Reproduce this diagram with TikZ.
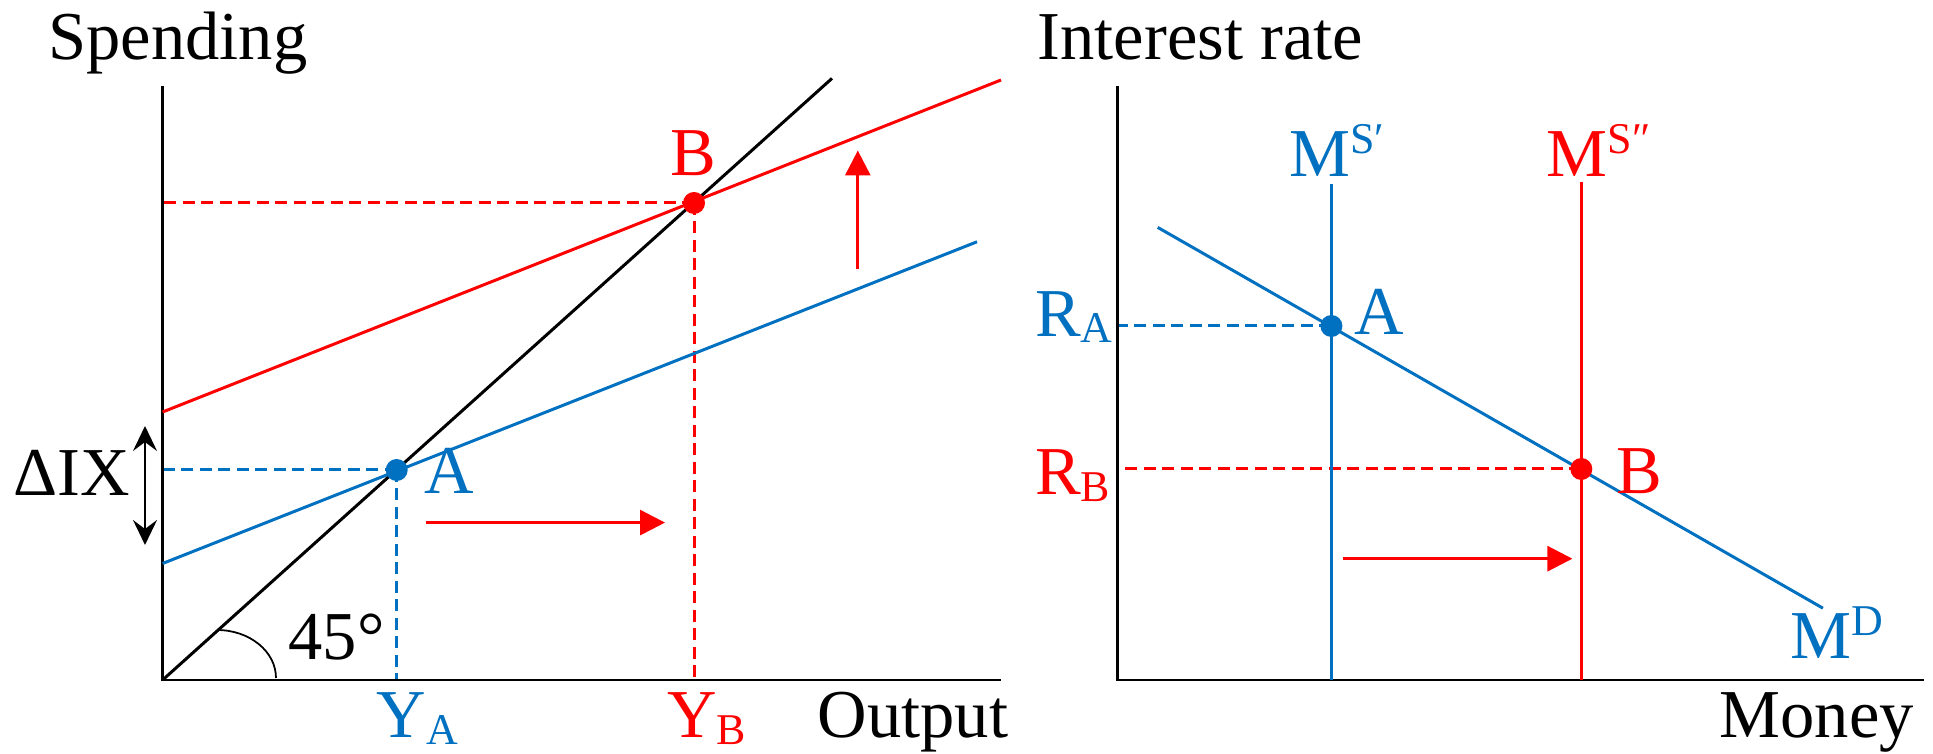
\documentclass[tikz,border=0pt]{standalone}
\usepackage{fontspec}
\setmainfont{Liberation Serif}
\usetikzlibrary{arrows.meta}
\definecolor{ablue}{HTML}{0070C0}
\definecolor{ared}{HTML}{FF0000}
\newcommand{\lowtext}[1]{\raisebox{-0.65mm}{\fontsize{12.5}{13}\selectfont #1}}
\newcommand{\hightext}[1]{\raisebox{2.3mm}{\fontsize{12.5}{13}\selectfont #1}}
\tikzset{
  axis/.style={line width=0.85pt},
  curve/.style={line width=0.85pt},
  guide/.style={line width=0.85pt, dash pattern=on 1.2mm off 0.65mm},
  shiftarrow/.style={line width=0.85pt, ared, -{Triangle[length=2.5mm,width=2.5mm]}},
  dot/.style={circle, fill, inner sep=0pt, minimum size=2.2mm},
  lbl/.style={inner sep=0pt, anchor=base west, font=\fontsize{19.5}{23}\selectfont},
}
\begin{document}
\begin{tikzpicture}[x=0.1mm,y=-0.1mm]
\useasboundingbox (0,0) rectangle (1933,754);
% spending / output
\coordinate (o1) at (162.6,680);
\coordinate (sy) at (162.6,85.6);
\coordinate (sx) at (1001,680);
\coordinate (d45) at (832,78.4);
\coordinate (blue0) at (162.6,563.5);
\coordinate (blue1) at (977,241.8);
\coordinate (red0) at (162.6,412);
\coordinate (red1) at (1001,80);
\coordinate (A1) at (396.7,470);
\coordinate (B1) at (694,203);
\coordinate (up0) at (857.8,269);
\coordinate (up1) at (857.8,150.5);
\coordinate (rt0) at (426,522.6);
\coordinate (rt1) at (665,522.6);
\coordinate (dix0) at (145,426);
\coordinate (dix1) at (145,545);
\draw[guide, ablue] (A1) -- (A1 -| o1);
\draw[guide, ablue] (A1) -- (A1 |- o1);
\draw[guide, ared] (B1) -- (B1 -| o1);
\draw[guide, ared] (B1) -- (B1 |- o1);
\draw[axis] (sy) -- (o1) -- (sx);
\draw[curve] (o1) -- (d45);
\draw[curve, ablue] (blue0) -- (blue1);
\draw[curve, ared] (red0) -- (red1);
\draw[line width=0.5pt] (217,630) arc[start angle=90, end angle=0, x radius=5.9mm, y radius=4.8mm];
\draw[shiftarrow] (up0) -- (up1);
\draw[shiftarrow] (rt0) -- (rt1);
\draw[line width=0.7pt, {Stealth[length=2.5mm,width=2.4mm,inset=0.9mm]}-{Stealth[length=2.5mm,width=2.4mm,inset=0.9mm]}] (dix0) -- (dix1);
\node[dot, ablue] (pa) at (A1) {};
\node[dot, ared] (pb) at (B1) {};
\node[lbl] (spend) at (47.8,60) {Spending};
\node[lbl] (out) at (817,738) {Output};
\node[lbl] (dixl) at (13,496) {ΔIX};
\node[lbl] (ang) at (288,660) {45°};
\node[lbl, ablue] (la) at (424,494) {A};
\node[lbl, ared] (lb) at (670,175.5) {B};
\node[lbl, ablue] (ya) at (376,738) {Y\lowtext{A}};
\node[lbl, ared] (yb) at (666.5,738) {Y\lowtext{B}};
% interest rate / money
\coordinate (o2) at (1117.8,680);
\coordinate (my) at (1117.8,86.5);
\coordinate (mx) at (1923.5,680);
\coordinate (md0) at (1157.7,227.4);
\coordinate (md1) at (1822.9,608.2);
\coordinate (ms1) at (1331.4,183.7);
\coordinate (ms2) at (1581.3,181.7);
\coordinate (A2) at (1331.4,326);
\coordinate (B2) at (1581.3,469);
\coordinate (mv0) at (1343.3,558.7);
\coordinate (mv1) at (1572.4,558.7);
\draw[guide, ablue] (A2) -- (A2 -| o2);
\draw[guide, ared] (B2) -- (B2 -| o2);
\draw[axis] (my) -- (o2) -- (mx);
\draw[curve, ablue] (ms1) -- (ms1 |- o2);
\draw[curve, ared] (ms2) -- (ms2 |- o2);
\draw[curve, ablue] (md0) -- (md1);
\draw[shiftarrow] (mv0) -- (mv1);
\node[dot, ablue] (qa) at (A2) {};
\node[dot, ared] (qb) at (B2) {};
\node[lbl] (irate) at (1037,60) {Interest rate};
\node[lbl] (money) at (1719,738) {Money};
\node[lbl, ablue] (ra) at (1034.5,336.5) {R\lowtext{A}};
\node[lbl, ared] (rb) at (1034.5,495) {R\lowtext{B}};
\node[lbl, ablue] (qal) at (1354,335) {A};
\node[lbl, ared] (qbl) at (1616,494) {B};
\node[lbl, ablue] (msl1) at (1288.6,177) {M\hightext{S′}};
\node[lbl, ared] (msl2) at (1546,177) {M\hightext{S″}};
\node[lbl, ablue] (mdl) at (1790,658.7) {M\hightext{D}};
\end{tikzpicture}
\end{document}
